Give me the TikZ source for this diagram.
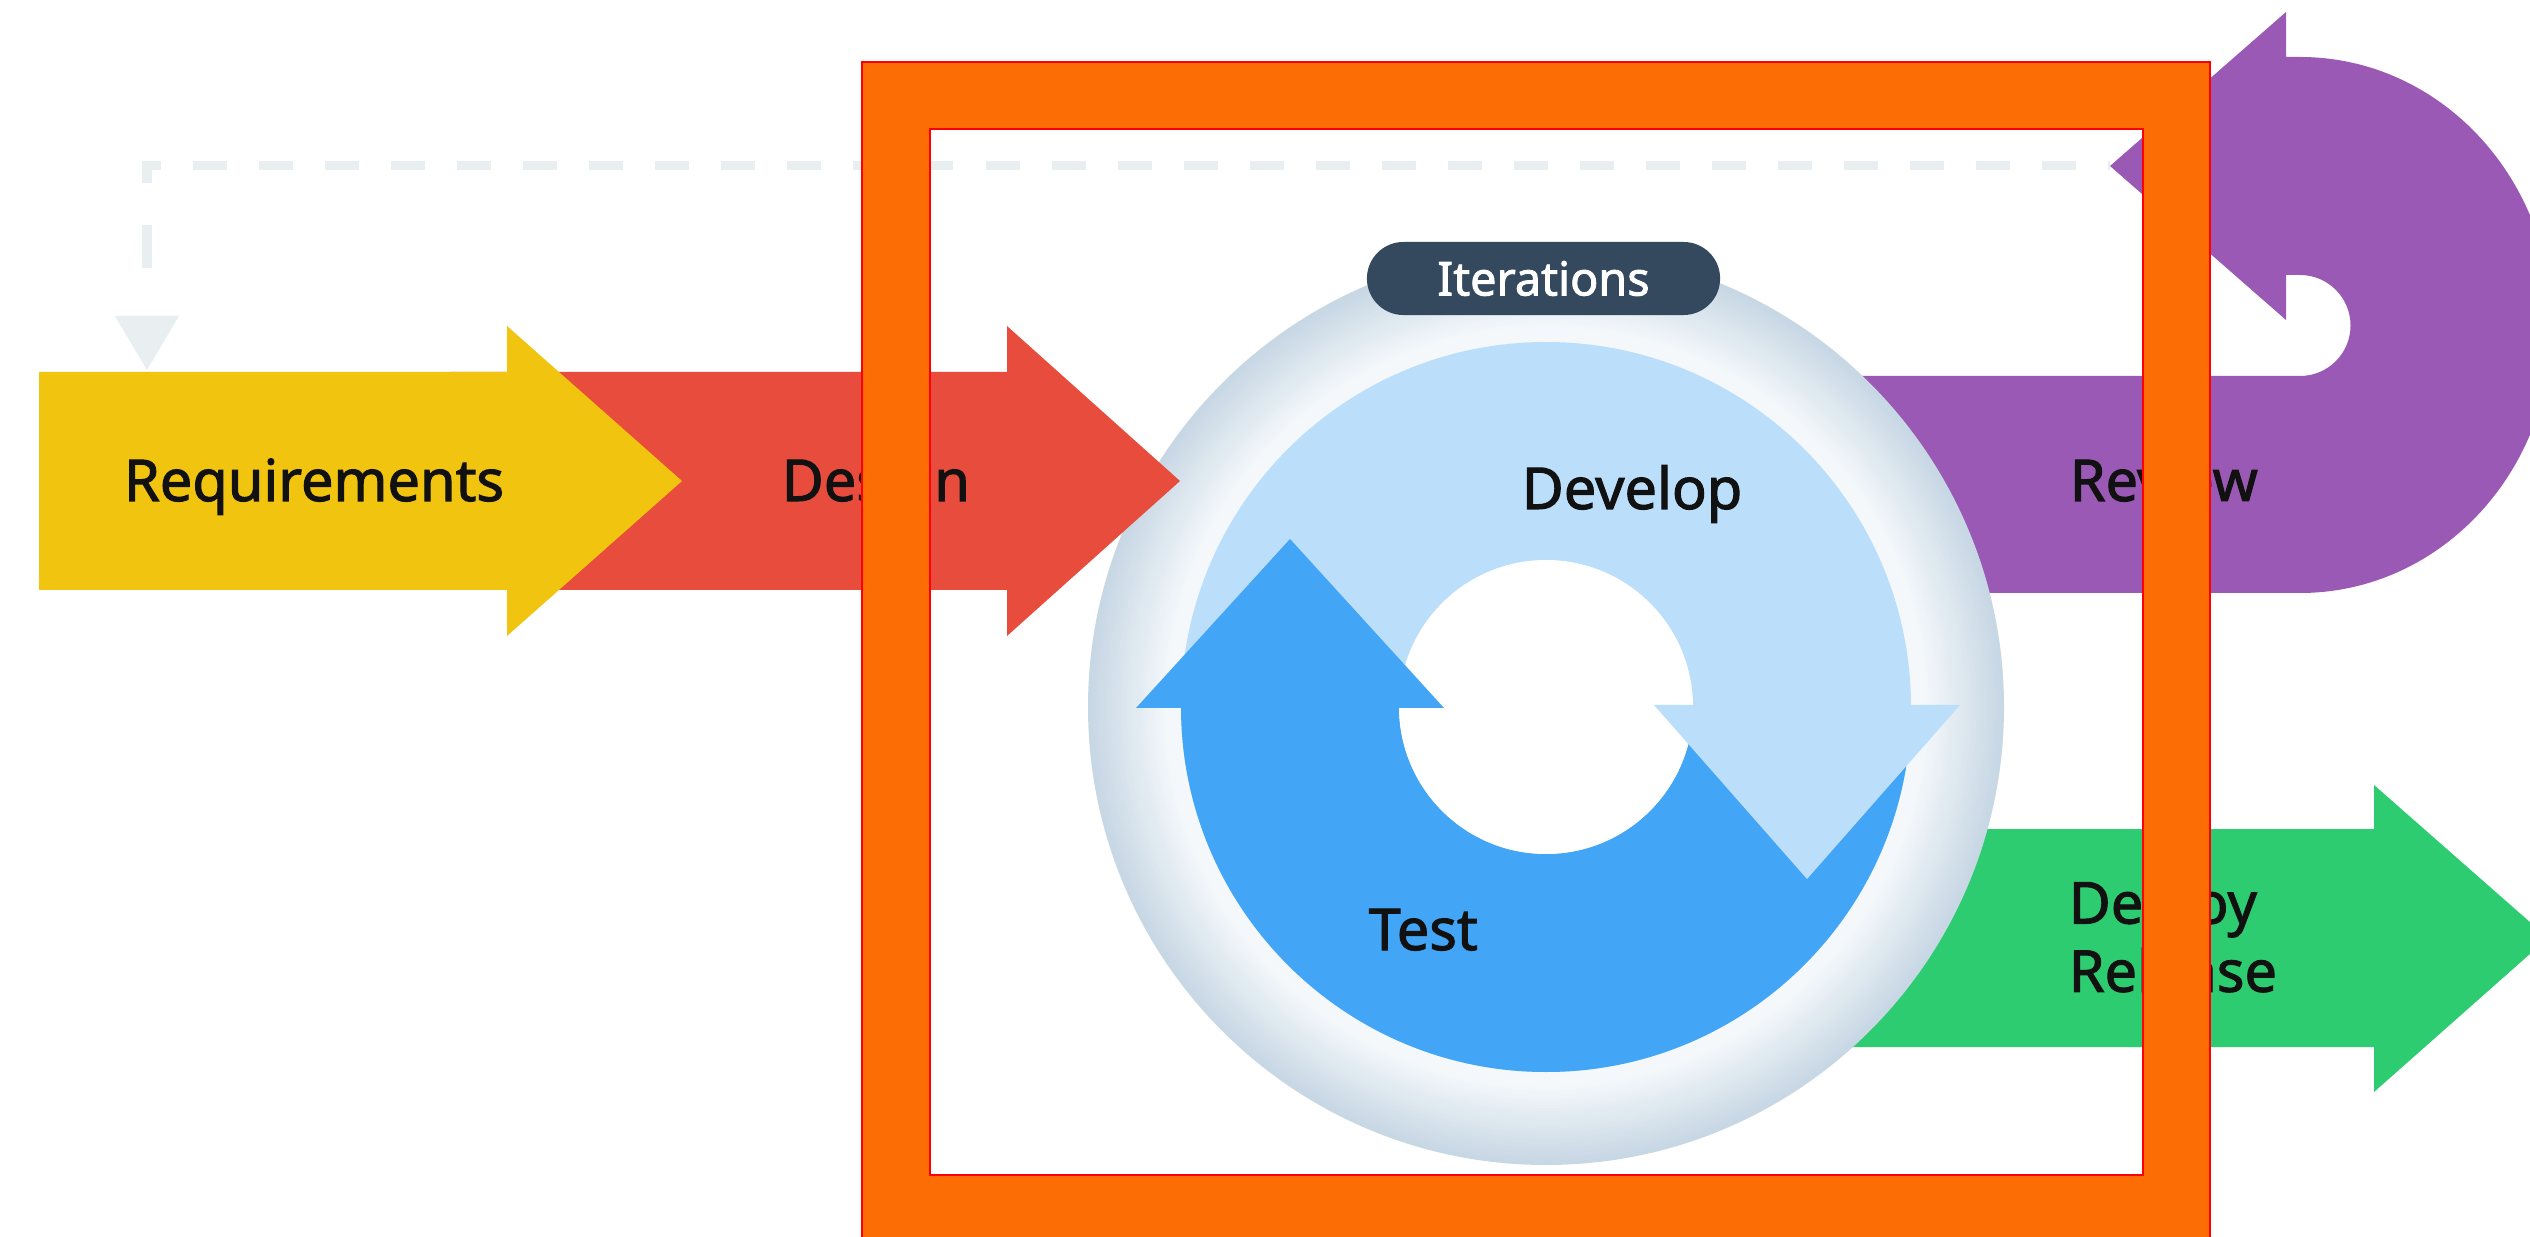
\documentclass[tikz,border=0pt]{standalone}
\usepackage{fontspec}
\setmainfont{Noto Sans}
\newfontfamily\labelfont{Noto Sans}[FakeBold=1.8]
\definecolor{sunflower}{HTML}{F1C40F}
\definecolor{alizarin}{HTML}{E74C3C}
\definecolor{amethyst}{HTML}{9B59B6}
\definecolor{emerald}{HTML}{2ECC71}
\definecolor{slate}{HTML}{34495E}
\definecolor{skylight}{HTML}{BBDEFB}
\definecolor{skydark}{HTML}{42A5F5}
\definecolor{glowlight}{HTML}{F4F8FB}
\definecolor{glowdark}{HTML}{C7D7E4}
\definecolor{frameorange}{HTML}{FD6D06}
\definecolor{loopgrey}{HTML}{E9EEF1}
\definecolor{inkblack}{HTML}{111111}
\tikzset{
  phase/.style={font=\labelfont\fontsize{16.4}{19.4}\selectfont, text=inkblack, inner sep=0pt},
  pill/.style={fill=slate, text=white, rounded corners=0.365cm, minimum width=3.53cm,
    minimum height=0.73cm, inner sep=0pt, font=\labelfont\fontsize{13.3}{16}\selectfont},
  loopline/.style={draw=loopgrey, line width=0.09cm},
}
\begin{document}
\begin{tikzpicture}[x=0.01cm, y=-0.01cm]
\useasboundingbox (0,0) rectangle (2530,1237);
\fill[white] (0,0) rectangle (2530,1237);
\clip (0,0) rectangle (2530,1237);

% loop-back connector from Review to Requirements
\coordinate (revtip) at (2110,166);
\coordinate (bend) at (147,166);
\coordinate (reqtop) at (147,370);
\draw[loopline, dash pattern=on 0.34cm off 0.32cm, dash phase=0.2cm] (bend) -- (revtip);
\draw[loopline, dash pattern=on 0.215cm off 0.42cm on 0.43cm off 2cm] ([yshift=0.045cm]bend) -- (147,316);
\fill[loopgrey] (115,316) -- (179,316) -- (reqtop) -- cycle;

% Review: band that turns back into a left-pointing head
\fill[amethyst] (1700,376) -- (2300,376) arc[start angle=90, end angle=-90, radius=50.5]
  -- (2286,275) -- (2286,320) -- (revtip) -- (2286,12) -- (2286,57) -- (2300,57)
  arc[start angle=-90, end angle=90, x radius=252, y radius=268] -- (1700,593) -- cycle;

% Deploy / Release
\fill[emerald] (1700,829) -- (2374,829) -- (2374,785) -- (2548,938) -- (2374,1092)
  -- (2374,1047) -- (1700,1047) -- cycle;

% iteration cycle: halo built from concentric rings, dark rim to pale inside
\coordinate (hub) at (1546,707);
\foreach \i in {0,...,31} {
  \pgfmathsetmacro\rr{458-3*\i}
  \pgfmathtruncatemacro\pc{min(100,\i*100/26)}
  \fill[glowlight!\pc!glowdark] (hub) circle[radius=\rr];
}
\fill[skylight] (hub) circle[radius=365];
\fill[skydark] (1911,707) arc[start angle=0, end angle=180, radius=365] -- (1399,707)
  arc[start angle=180, end angle=0, radius=147] -- cycle;
\fill[white] (hub) circle[radius=147];
\fill[skydark] (1136,708) -- (1290,539) -- (1444,708) -- cycle;
\fill[skylight] (1654,705) -- (1807,879) -- (1960,705) -- cycle;

% Design and Requirements
\fill[alizarin] (450,372) -- (1007,372) -- (1007,326) -- (1180,481) -- (1007,636)
  -- (1007,590) -- (450,590) -- cycle;
\fill[sunflower] (39,372) -- (507,372) -- (507,326) -- (682,481) -- (507,636)
  -- (507,590) -- (39,590) -- cycle;

\node[pill] (iter) at (1543.5,278.5) {Iterations};

\node[phase, anchor=base] (req) at (314,501) {Requirements};
\node[phase, anchor=base west] (des) at (781,501) {Design};
\node[phase, anchor=base west] (rev) at (2069,501) {Review};
\node[phase, anchor=base west] (dev) at (1521,509) {Develop};
\node[phase, anchor=base west] (tst) at (1368,950) {Test};
\node[phase, anchor=west, align=left] (dep) at (2068,936) {Deploy\\Release};

% highlight frame
\fill[frameorange, even odd rule] (862,62) rectangle (2210,1242) (930,129) rectangle (2143,1175);
\draw[red, line width=0.02cm] (862,62) rectangle (2210,1242) (930,129) rectangle (2143,1175);
\end{tikzpicture}
\end{document}
